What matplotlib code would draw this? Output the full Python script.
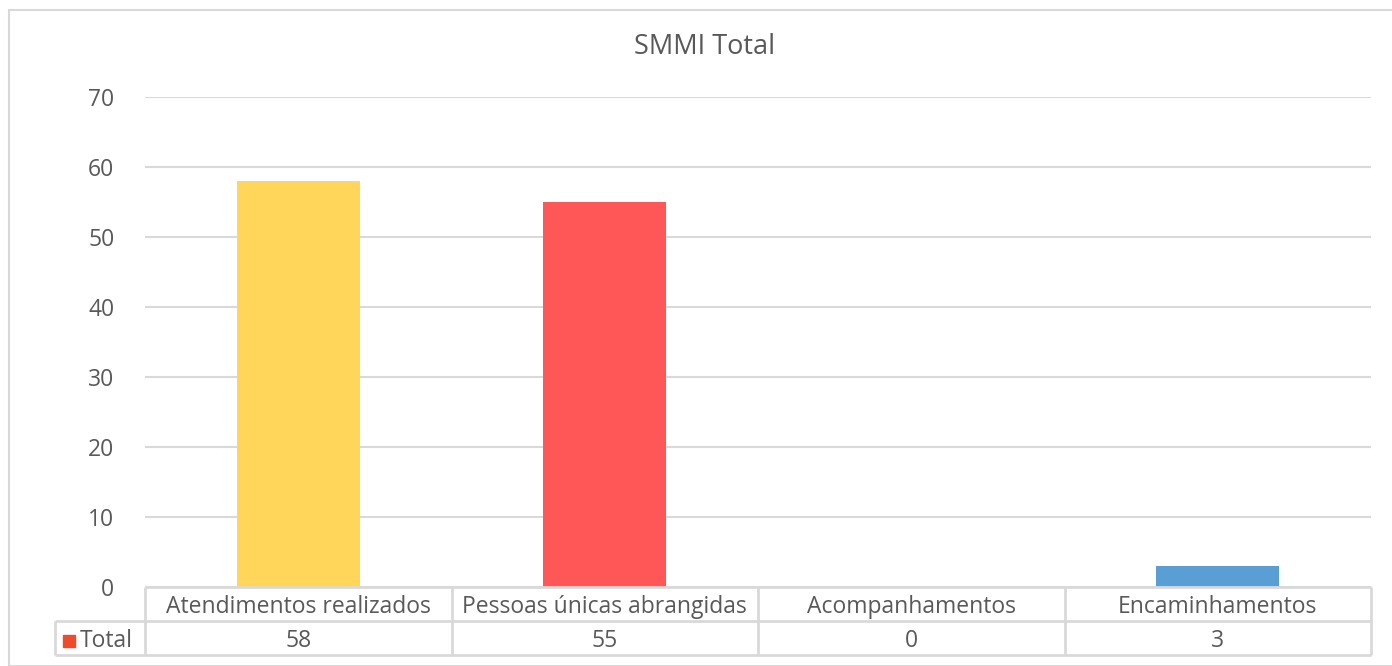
import matplotlib
matplotlib.use("Agg")
import matplotlib.pyplot as plt
from matplotlib.patches import Rectangle
import matplotlib.transforms as mtransforms

# Data
categories = ["Atendimentos realizados", "Pessoas únicas abrangidas",
              "Acompanhamentos", "Encaminhamentos"]
totals = [58, 55, 0, 3]
bar_colors = ["#FFD55A", "#FF5757", "#5A9FD4", "#5A9FD4"]
series_name = "Total"
series_key_color = "#EE4B2B"
yticks = [0, 10, 20, 30, 40, 50, 60, 70]
title = "SMMI Total"

text_color = "#595959"
line_color = "#D9D9D9"
fs = 16.5

plt.rcParams["font.family"] = ["Open Sans", "DejaVu Sans"]

W, H = 1392, 666
fig = plt.figure(figsize=(W / 100, H / 100), dpi=100)

# outer chart frame
fig.patches.append(Rectangle((9 / W, 0), 1.2, 1 - 10 / H, transform=fig.transFigure,
                             fill=False, edgecolor=line_color, linewidth=1.5))

ax = fig.add_axes([145 / W, 79 / H, (1371 - 145) / W, (587 - 97) / H])
x = list(range(len(categories)))
ax.bar(x, totals, width=0.4, color=bar_colors, zorder=3)
ax.set_xlim(-0.5, len(categories) - 0.5)
ax.set_ylim(0, 70)
ax.set_yticks(yticks)
ax.set_yticklabels([str(t) for t in yticks], fontsize=fs, color=text_color)
ax.tick_params(axis="y", length=0, pad=22)
ax.set_xticks([])
ax.grid(axis="y", color=line_color, linewidth=1.5, zorder=0)
for s in ax.spines.values():
    s.set_visible(False)

fig.text(705 / W, 1 - 47 / H, title, ha="center", va="center",
         fontsize=19.5, color=text_color)

# data table under the plot: x in data units, y in axes units
tr = mtransforms.blended_transform_factory(ax.transData, ax.transAxes)
row_h = 34 / 490
lw = 2
y1 = 0.0
y2 = -row_h
y3 = -2 * row_h
xl = -0.5
xr = len(categories) - 0.5
label_left = xl - (145 - 55) / 306.5
text_dy = 3 / 490  # nudge cell text slightly downwards

def hline(x0, x1, y):
    ax.plot([x0, x1], [y, y], color=line_color, lw=lw, transform=tr, clip_on=False,
            solid_capstyle="butt", zorder=4)

def vline(xv, y0, y1_):
    ax.plot([xv, xv], [y0, y1_], color=line_color, lw=lw, transform=tr, clip_on=False,
            solid_capstyle="butt", zorder=4)

hline(xl, xr, y1)
hline(label_left, xr, y2)
hline(label_left, xr, y3)
vline(label_left, y2, y3)
for i in range(len(categories) + 1):
    vline(xl + i, y1, y3)

for i, (cat, val) in enumerate(zip(categories, totals)):
    ax.text(i, (y1 + y2) / 2 - text_dy, cat, transform=tr, ha="center", va="center",
            fontsize=fs, color=text_color, clip_on=False)
    ax.text(i, (y2 + y3) / 2 - text_dy, str(val), transform=tr, ha="center", va="center",
            fontsize=fs, color=text_color, clip_on=False)

# series label with colour key
key_w = 12 / 306.5
key_x = label_left + 8 / 306.5
ax.add_patch(Rectangle((key_x, (y2 + y3) / 2 - 6 / 490 - text_dy), key_w, 12 / 490,
                       transform=tr, color=series_key_color, clip_on=False))
ax.text(key_x + key_w + 5 / 306.5, (y2 + y3) / 2 - text_dy, series_name, transform=tr,
        ha="left", va="center", fontsize=fs, color=text_color, clip_on=False)

fig.savefig("out.png", dpi=100)
